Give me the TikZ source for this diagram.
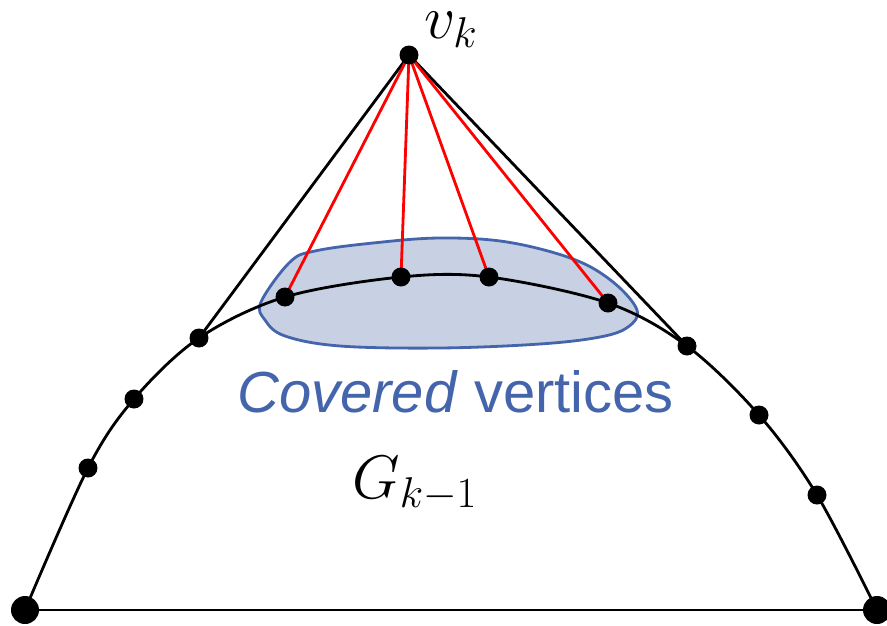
\RequirePackage{fix-cm}
\documentclass[tikz,border=0pt]{standalone}
\usepackage{fontspec}
\newfontfamily\labelfont{Liberation Sans}
\definecolor{covblue}{RGB}{68,101,171}
\definecolor{covfill}{RGB}{200,208,228}
\begin{document}
\begin{tikzpicture}[x=0.02cm,y=-0.02cm,
  dot/.style={circle,fill=black,inner sep=0pt,minimum size=0.38cm},
  bigdot/.style={circle,fill=black,inner sep=0pt,minimum size=0.56cm},
  edge/.style={line width=1.6pt,line join=round},
  rededge/.style={line width=1.6pt,red},
  mathlabel/.style={inner sep=0pt,anchor=base west,font=\fontsize{35}{42}\selectfont},
  covlabel/.style={inner sep=0pt,anchor=base west,text=covblue,font=\labelfont\fontsize{33}{40}\selectfont}]
\useasboundingbox (0,0) rectangle (887,626);
% covered region
\draw[covblue,fill=covfill,line width=1.6pt]
  plot[smooth cycle,tension=0.6] coordinates {(261,302) (290,262) (315,251) (373,243) (440,238) (507,242) (573,259) (613,282) (637,310) (628,327) (600,337) (540,344) (440,348) (340,346) (285,336) (265,320)};
% positions
\coordinate (v) at (409,55);
\coordinate (L) at (25,610);
\coordinate (R) at (877,610);
\coordinate (a1) at (88,468);
\coordinate (a2) at (134,399);
\coordinate (a3) at (199,338);
\coordinate (c1) at (285,297);
\coordinate (c2) at (401,277);
\coordinate (c3) at (489,277);
\coordinate (c4) at (608,303);
\coordinate (b3) at (687,346);
\coordinate (b2) at (759,415);
\coordinate (b1) at (817,495);
% edges
\draw[edge] (L) -- (R);
\draw[edge] plot[smooth,tension=0.55] coordinates {(L) (a1) (a2) (a3) (c1) (c2) (c3) (c4) (b3) (b2) (b1) (R)};
\draw[edge] (v) -- (a3);
\draw[edge] (v) -- (b3);
\foreach \p in {c1,c2,c3,c4} \draw[rededge] (v) -- (\p);
% vertices
\foreach \p in {v,a1,a2,a3,c1,c2,c3,c4,b1,b2,b3} \node[dot] (n\p) at (\p) {};
\node[bigdot] (nL) at (L) {};
\node[bigdot] (nR) at (R) {};
% labels
\node[mathlabel] (vk) at (424,38) {$v_k$};
\node[mathlabel] (G) at (352,498) {$G_{k-1}$};
\node[covlabel] (cov) at (237,412) {\itshape Covered\/ \upshape vertices};
\end{tikzpicture}
\end{document}
